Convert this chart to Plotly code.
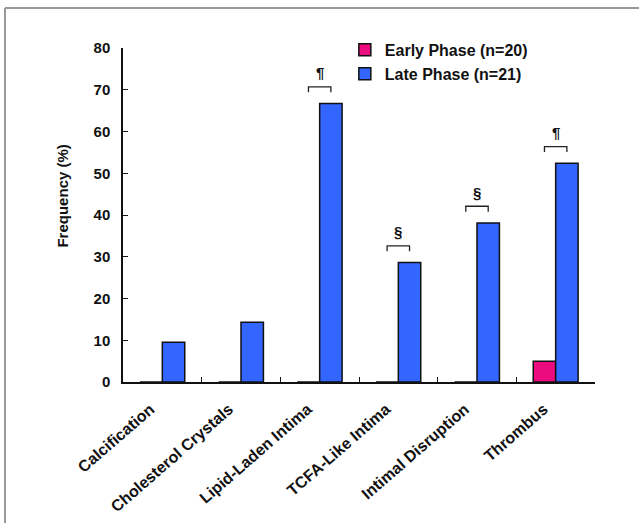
import plotly.graph_objects as go

# Plaque findings by phase (percent of patients)
categories = ["Calcification", "Cholesterol Crystals", "Lipid-Laden Intima",
              "TCFA-Like Intima", "Intimal Disruption", "Thrombus"]
early_phase = [0, 0, 0, 0, 0, 5.0]
late_phase = [9.5, 14.3, 66.7, 28.6, 38.1, 52.4]
series_names = ["Early Phase (n=20)", "Late Phase (n=21)"]
y_ticks = [0, 10, 20, 30, 40, 50, 60, 70, 80]

# Significance marks: category index -> symbol
sig_marks = {2: "¶", 3: "§", 4: "§", 5: "¶"}

FONT = "Liberation Sans, Arial, sans-serif"
PINK = "#EC0C80"
BLUE = "#3366FF"
BARGAP = 0.43

fig = go.Figure()
fig.add_trace(go.Bar(x=categories, y=early_phase, name=series_names[0],
                     marker=dict(color=PINK, line=dict(color="#111", width=1.5))))
fig.add_trace(go.Bar(x=categories, y=late_phase, name=series_names[1],
                     marker=dict(color=BLUE, line=dict(color="#111", width=1.5))))

# Brackets spanning the two bars of a group, with the symbol above
half = (1 - BARGAP) / 4
for i, sym in sig_marks.items():
    top = max(early_phase[i], late_phase[i]) + 4.0
    fig.add_shape(type="path", xref="x", yref="y",
                  path=f"M {i-half},{top-1.3} L {i-half},{top} L {i+half},{top} L {i+half},{top-1.3}",
                  line=dict(color="#222", width=1.3))
    fig.add_annotation(x=i, y=top + 3.4, xref="x", yref="y", text=f"<b>{sym}</b>",
                       showarrow=False, font=dict(family=FONT, size=15, color="#111"))

# Y-axis title
fig.add_annotation(xref="paper", yref="paper", x=-0.128, y=0.557, text="<b>Frequency (%)</b>",
                   textangle=-90, showarrow=False, xanchor="center", yanchor="middle",
                   font=dict(family=FONT, size=15, color="#111"))

# Gray frame on the left and top
fig.add_shape(type="line", xref="paper", yref="paper", x0=-0.250, x1=-0.250, y0=1.12, y1=-0.45,
              line=dict(color="#999", width=2))
fig.add_shape(type="line", xref="paper", yref="paper", x0=-0.250, x1=1.2, y0=1.12, y1=1.12,
              line=dict(color="#999", width=2))

fig.update_layout(
    width=639, height=523,
    margin=dict(l=123, r=44, t=48, b=141),
    paper_bgcolor="white", plot_bgcolor="white",
    barmode="group", bargap=BARGAP, bargroupgap=0,
    font=dict(family=FONT, size=15, color="#111"),
    showlegend=True,
    legend=dict(x=0.47, y=1.045, xanchor="left", yanchor="top",
                bgcolor="rgba(0,0,0,0)", itemwidth=30, tracegroupgap=0,
                font=dict(family=FONT, size=16, color="#111", weight="bold")),
    xaxis=dict(showline=True, linecolor="#111", linewidth=1.5, automargin=False,
               ticks="inside", tickson="boundaries", ticklen=5, tickcolor="#111",
               tickangle=-41, showgrid=False, ticklabelstandoff=10, ticklabelshift=-12,
               tickfont=dict(family=FONT, size=16, color="#111", weight="bold")),
    yaxis=dict(range=[0, 80], tickvals=y_ticks, showline=True, linecolor="#111", linewidth=1.5,
               automargin=False,
               ticks="inside", ticklen=5, tickcolor="#111", showgrid=False, zeroline=False,
               ticklabelstandoff=8,
               tickfont=dict(family=FONT, size=15, color="#111", weight="bold")),
)

fig.write_html("out.html")
